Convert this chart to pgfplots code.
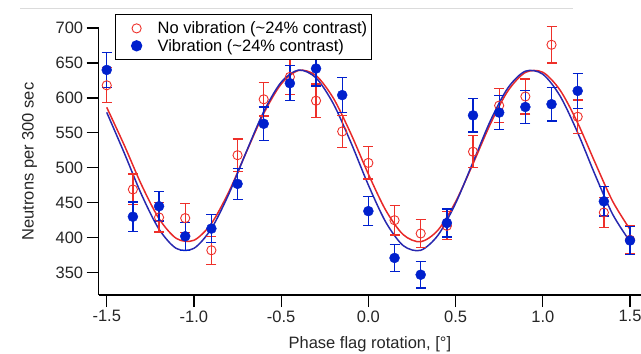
\documentclass[border=0pt]{standalone}
\usepackage{fontspec}
\setmainfont{Liberation Sans}
\usepackage{pgfplots}
\pgfplotsset{compat=1.18}
\usepackage{pgfplotstable}
\definecolor{pred}{RGB}{238,48,42}
\definecolor{pblue}{RGB}{0,32,205}
\definecolor{lred}{RGB}{232,40,40}
\definecolor{lblue}{RGB}{40,40,175}

\pgfplotstableread{
x y e
-1.5 618 25
-1.35 469 22
-1.2 429 21
-1.05 428 21
-0.9 382 20
-0.75 518 23
-0.6 598 24
-0.45 630 25
-0.3 596 24
-0.15 552 23
0 507 23
0.15 425 21
0.3 406 20
0.45 417 20
0.6 523 23
0.75 589 24
0.9 602 25
1.05 676 26
1.2 573 24
1.35 436 21
1.5 397 20
}\novib

\pgfplotstableread{
x y e
-1.5 640 25
-1.35 430 21
-1.2 445 21
-1.05 402 20
-0.9 413 20
-0.75 477 22
-0.6 563 24
-0.45 621 25
-0.3 642 25
-0.15 604 25
0 438 21
0.15 371 19
0.3 347 19
0.45 421 20
0.6 575 24
0.75 579 24
0.9 587 24
1.05 591 24
1.2 610 25
1.35 452 21
1.5 396 20
}\vib

\pgfplotstableread{
x y
-1.5 586.5
-1.4 532.6
-1.3 475.3
-1.2 427.2
-1.1 398.8
-1.0 396.3
-0.9 420.3
-0.8 465.6
-0.7 522.2
-0.6 577.6
-0.5 619.8
-0.4 639.3
-0.3 631.9
-0.2 599.3
-0.1 548.6
0.0 491.0
0.1 439.1
0.2 404.3
0.3 394.2
0.4 411.1
0.5 451.3
0.6 505.8
0.7 563.0
0.8 610.0
0.9 636.4
1.0 636.7
1.1 610.7
1.2 564.1
1.3 507.2
1.4 452.3
1.5 411.8
}\fitred

\pgfplotstableread{
x y
-1.5 579.3
-1.4 521.5
-1.3 461.4
-1.2 412.1
-1.1 384.5
-1.0 384.8
-0.9 413.0
-0.8 462.5
-0.7 522.7
-0.6 580.3
-0.5 622.4
-0.4 639.8
-0.3 628.6
-0.2 591.3
-0.1 536.1
0.0 475.3
0.1 422.2
0.2 388.6
0.3 382.0
0.4 403.8
0.5 449.1
0.6 508.0
0.7 567.5
0.8 614.3
0.9 638.2
1.0 633.9
1.1 602.3
1.2 550.3
1.3 489.8
1.4 433.7
1.5 394.5
}\fitblue

\begin{document}
\begin{tikzpicture}
\useasboundingbox (0bp,0bp) rectangle (641bp,354bp);
\draw[black!14, line width=0.8bp] (20bp,346bp) -- (573bp,346bp);
\begin{axis}[
  at={(98.7bp,59bp)}, anchor=south west,
  scale only axis, width=542.3bp, height=267bp,
  xmin=-1.546, xmax=1.563, ymin=318, ymax=700,
  axis lines=left, axis line style={-, line width=1.3pt},
  clip=false,
  tick align=outside, major tick length=12bp,
  tick style={black, line width=1.3pt},
  xtick={-1.5,-1,-0.5,0,0.5,1,1.5},
  xticklabels={-1.5,-1.0,-0.5,0.0,0.5,1.0,1.5},
  ytick={350,400,450,500,550,600,650,700},
  yticklabels={350,400,450,500,550,600,650,700},
  tick label style={font=\fontsize{16.5bp}{19bp}\selectfont, text=black!85},
  xlabel={Phase flag rotation, [°]},
  ylabel={Neutrons per 300 sec},
  label style={font=\fontsize{16.5bp}{19bp}\selectfont, text=black!85},
  xlabel style={at={(rel axis cs:0.5,0)}, anchor=center, yshift=-49bp},
  ylabel style={at={(rel axis cs:0,0.5)}, anchor=center, xshift=0bp, yshift=69bp},
  legend style={at={(axis description cs:0.030,1.0524)}, anchor=north west,
    draw=black, line width=1.3pt, font=\fontsize{16.5bp}{19bp}\selectfont,
    inner xsep=2bp, inner ysep=5bp, row sep=0bp,
    legend cell align=left},
  legend image code/.code={\path[draw=none,fill=none] (0bp,0bp) -- (38bp,0bp);
    \draw[#1, only marks] plot coordinates {(19bp,0bp)};},
]
\addplot[lred, line width=1.5pt, smooth, forget plot] table[x=x,y=y]{\fitred};
\addplot[lblue, line width=1.5pt, smooth, forget plot] table[x=x,y=y]{\fitblue};
\addplot[pred, only marks, mark=o, mark size=4.6bp, mark options={line width=0.9pt},
  error bars/.cd, y dir=both, y explicit,
  error bar style={line width=1.3pt, pred},
  error mark options={rotate=90, mark size=5bp, line width=1.3pt, pred}]
  table[x=x,y=y,y error=e]{\novib};
\addlegendentry{No vibration (\textasciitilde24\% contrast)}
\addplot[pblue, only marks, mark=*, mark size=5bp, mark options={fill=pblue, draw=pblue},
  error bars/.cd, y dir=both, y explicit,
  error bar style={line width=1.3pt, pblue},
  error mark options={rotate=90, mark size=5bp, line width=1.3pt, pblue}]
  table[x=x,y=y,y error=e]{\vib};
\addlegendentry{Vibration (\textasciitilde24\% contrast)}
\end{axis}
\end{tikzpicture}
\end{document}
